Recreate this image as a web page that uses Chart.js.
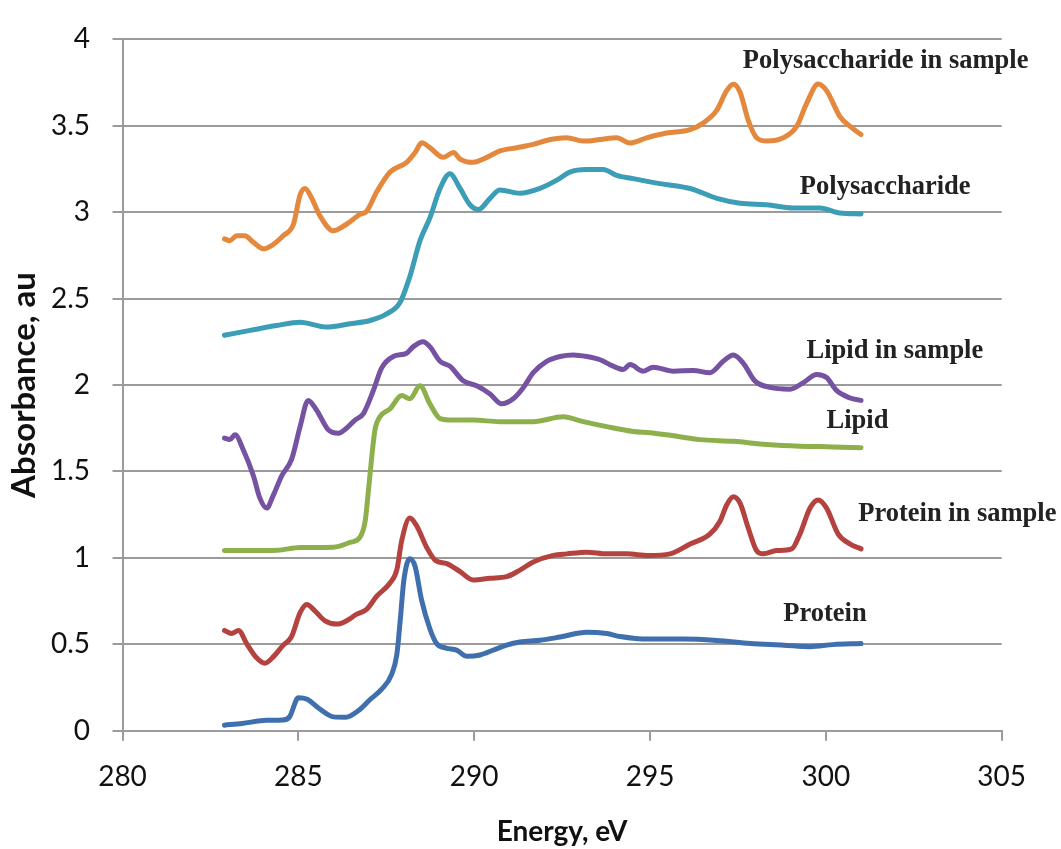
<!DOCTYPE html>
<html>
<head>
<meta charset="utf-8">
<title>C 1s absorption spectra</title>
<script src="https://cdn.jsdelivr.net/npm/chart.js@4.4.1/dist/chart.umd.min.js"></script>
<style>
  html, body { margin: 0; padding: 0; background: #ffffff; }
  #wrap { width: 1061px; height: 849px; }
</style>
</head>
<body>
<div id="wrap"><canvas id="chart" width="1061" height="849"></canvas></div>
<script>
// Spectra: [energy (eV), absorbance (au)]
const protein = [
  [282.9,0.032],[283.4,0.042],[284.1,0.06],[284.55,0.062],[284.75,0.08],[285.0,0.19],
  [285.25,0.182],[285.6,0.127],[286.0,0.08],[286.35,0.078],[286.7,0.115],[287.05,0.182],
  [287.37,0.24],[287.65,0.325],[287.8,0.44],[287.9,0.645],[288.0,0.87],[288.17,0.995],
  [288.32,0.95],[288.5,0.76],[288.74,0.59],[288.93,0.505],[289.2,0.478],[289.5,0.466],
  [289.8,0.43],[290.17,0.438],[290.55,0.467],[290.92,0.495],[291.3,0.513],[291.87,0.523],
  [292.44,0.542],[293.2,0.57],[293.77,0.562],[294.15,0.545],[294.95,0.53],[295.95,0.53],
  [296.9,0.522],[297.85,0.505],[298.8,0.495],[299.55,0.486],[300.2,0.498],[301.0,0.504]
];
const proteinInSample = [
  [282.9,0.58],[283.1,0.562],[283.3,0.58],[283.53,0.504],[283.82,0.42],[284.05,0.39],
  [284.3,0.43],[284.57,0.495],[284.8,0.542],[285.05,0.683],[285.24,0.73],[285.47,0.693],
  [285.76,0.636],[286.1,0.617],[286.37,0.636],[286.66,0.674],[286.94,0.702],[287.23,0.778],
  [287.6,0.853],[287.8,0.93],[287.94,1.1],[288.17,1.23],[288.37,1.183],[288.65,1.06],
  [288.9,0.985],[289.22,0.967],[289.6,0.92],[289.97,0.872],[290.45,0.882],[290.92,0.891],
  [291.3,0.929],[291.68,0.976],[292.25,1.014],[292.63,1.023],[293.2,1.033],[293.77,1.023],
  [294.34,1.023],[294.95,1.014],[295.57,1.023],[296.14,1.08],[296.7,1.137],[296.99,1.212],
  [297.18,1.306],[297.37,1.353],[297.56,1.316],[297.79,1.174],[298.03,1.042],[298.22,1.023],
  [298.6,1.042],[299.03,1.052],[299.26,1.137],[299.55,1.288],[299.78,1.335],[300.02,1.288],
  [300.35,1.137],[300.69,1.08],[301.0,1.052]
];
const lipid = [
  [282.9,1.042],[283.6,1.042],[284.4,1.044],[285.05,1.06],[286.0,1.062],[286.47,1.089],
  [286.75,1.118],[286.9,1.212],[286.99,1.382],[287.09,1.589],[287.18,1.741],[287.32,1.816],
  [287.61,1.863],[287.94,1.939],[288.17,1.92],[288.46,1.995],[288.74,1.891],[289.03,1.806],
  [289.41,1.797],[289.97,1.797],[290.73,1.788],[291.68,1.788],[292.53,1.816],[293.1,1.788],
  [293.77,1.759],[294.52,1.731],[295.0,1.724],[295.47,1.712],[296.42,1.684],[297.37,1.674],
  [298.32,1.656],[299.26,1.646],[300.21,1.642],[301.0,1.637]
];
const lipidInSample = [
  [282.9,1.693],[283.05,1.684],[283.2,1.712],[283.43,1.627],[283.72,1.476],[283.91,1.344],
  [284.1,1.288],[284.29,1.363],[284.53,1.476],[284.81,1.571],[285.05,1.759],[285.28,1.911],
  [285.52,1.854],[285.85,1.741],[286.14,1.721],[286.37,1.75],[286.61,1.797],[286.85,1.835],
  [287.13,1.967],[287.37,2.099],[287.7,2.165],[288.08,2.184],[288.27,2.222],[288.55,2.25],
  [288.74,2.222],[289.03,2.137],[289.31,2.109],[289.69,2.024],[290.07,1.995],[290.45,1.948],
  [290.78,1.891],[291.11,1.92],[291.4,1.986],[291.68,2.071],[292.06,2.137],[292.44,2.165],
  [292.82,2.174],[293.2,2.165],[293.58,2.146],[293.95,2.109],[294.24,2.09],[294.43,2.118],
  [294.81,2.08],[295.09,2.103],[295.66,2.08],[296.23,2.084],[296.7,2.071],[297.08,2.137],
  [297.37,2.174],[297.65,2.127],[297.98,2.024],[298.41,1.986],[298.98,1.976],[299.36,2.014],
  [299.74,2.061],[300.02,2.043],[300.31,1.967],[300.69,1.925],[301.0,1.911]
];
const polysaccharide = [
  [282.9,2.288],[283.63,2.316],[284.38,2.344],[285.05,2.363],[285.8,2.335],[286.47,2.354],
  [287.04,2.373],[287.51,2.411],[287.89,2.477],[288.17,2.627],[288.46,2.835],[288.74,2.967],
  [289.03,3.137],[289.31,3.222],[289.6,3.137],[289.88,3.043],[290.12,3.015],[290.45,3.08],
  [290.73,3.128],[291.3,3.109],[291.87,3.137],[292.35,3.185],[292.72,3.232],[293.2,3.247],
  [293.67,3.247],[294.05,3.213],[294.52,3.194],[295.28,3.165],[296.14,3.137],[296.9,3.08],
  [297.56,3.052],[298.32,3.043],[299.07,3.024],[299.83,3.024],[300.4,2.995],[301.0,2.99]
];
const polysaccharideInSample = [
  [282.9,2.845],[283.05,2.835],[283.25,2.864],[283.48,2.864],[283.72,2.826],[284.0,2.788],
  [284.24,2.807],[284.57,2.864],[284.86,2.93],[285.05,3.1],[285.19,3.137],[285.38,3.08],
  [285.62,2.977],[285.99,2.892],[286.37,2.93],[286.75,2.987],[286.94,3.005],[287.23,3.118],
  [287.61,3.232],[288.08,3.288],[288.32,3.345],[288.51,3.401],[288.74,3.373],[289.12,3.317],
  [289.41,3.345],[289.6,3.307],[289.97,3.288],[290.36,3.317],[290.73,3.354],[291.21,3.373],
  [291.68,3.392],[292.16,3.42],[292.63,3.43],[293.1,3.411],[293.58,3.42],[294.05,3.43],
  [294.43,3.40],[294.9,3.43],[295.47,3.458],[296.14,3.477],[296.51,3.515],[296.9,3.59],
  [297.18,3.703],[297.37,3.74],[297.56,3.694],[297.79,3.533],[298.03,3.43],[298.32,3.411],
  [298.79,3.43],[299.17,3.496],[299.45,3.628],[299.78,3.741],[300.02,3.703],[300.4,3.553],
  [300.69,3.496],[301.0,3.449]
];

// Axis ranges and tick spacing
const energyRange = [280, 305];
const energyStep = 5;
const absorbanceRange = [0, 4];
const absorbanceStep = 0.5;

const seriesNames = ['Protein', 'Protein in sample', 'Lipid', 'Lipid in sample',
                     'Polysaccharide', 'Polysaccharide in sample'];
const seriesData = [protein, proteinInSample, lipid, lipidInSample,
                    polysaccharide, polysaccharideInSample];
const seriesColors = ['#3F6FAD', '#B4423F', '#8DB04D', '#7652A2', '#3C9DB6', '#E3883C'];

// Curve captions, anchored at (energy, absorbance) of the text's left baseline
const captions = [
  { text: 'Polysaccharide in sample', at: [297.64, 3.836] },
  { text: 'Polysaccharide',           at: [299.26, 3.105] },
  { text: 'Lipid in sample',          at: [299.45, 2.156] },
  { text: 'Lipid',                    at: [300.02, 1.750] },
  { text: 'Protein in sample',        at: [300.92, 1.212] },
  { text: 'Protein',                  at: [298.79, 0.636] }
];

const captionPlugin = {
  id: 'curveCaptions',
  afterDraw(chart) {
    const { ctx, scales: { x, y } } = chart;
    ctx.save();
    ctx.font = 'bold 26.5px "Liberation Serif", "Times New Roman", serif';
    ctx.fillStyle = '#222222';
    ctx.textAlign = 'left';
    ctx.textBaseline = 'alphabetic';
    captions.forEach(c => {
      ctx.fillText(c.text, x.getPixelForValue(c.at[0]), y.getPixelForValue(c.at[1]));
    });
    ctx.restore();
  }
};

const gridGray = '#9b9b9b';

new Chart(document.getElementById('chart'), {
  type: 'line',
  data: {
    datasets: seriesNames.map((name, i) => ({
      label: name,
      data: seriesData[i].map(p => ({ x: p[0], y: p[1] })),
      borderColor: seriesColors[i],
      backgroundColor: seriesColors[i],
      borderWidth: 5,
      pointRadius: 0,
      cubicInterpolationMode: 'monotone',
      borderCapStyle: 'round',
      borderJoinStyle: 'round',
      fill: false
    }))
  },
  options: {
    responsive: false,
    animation: false,
    devicePixelRatio: 1,
    layout: { padding: { top: 24.3, right: 59.3, left: 0, bottom: 0 } },
    plugins: {
      legend: { display: false },
      tooltip: { enabled: false }
    },
    scales: {
      x: {
        type: 'linear',
        min: energyRange[0],
        max: energyRange[1],
        afterFit(scale) { scale.height = 118.3; },
        border: { display: true, color: gridGray, width: 2 },
        grid: { display: true, drawOnChartArea: false, drawTicks: true,
                tickLength: 10, color: gridGray, lineWidth: 2 },
        ticks: {
          stepSize: energyStep,
          padding: 19,
          color: '#111111',
          font: { family: 'Lato', size: 28 },
          maxRotation: 0,
          callback: v => String(Number(v))
        },
        title: {
          display: true,
          text: 'Energy, eV',
          color: '#111111',
          font: { family: 'Lato', size: 28, weight: 'bold', lineHeight: 1 },
          padding: { top: 0, bottom: 3 }
        }
      },
      y: {
        type: 'linear',
        min: absorbanceRange[0],
        max: absorbanceRange[1],
        afterFit(scale) { scale.width = 122.5; },
        border: { display: true, color: gridGray, width: 2 },
        grid: { display: true, drawOnChartArea: true, drawTicks: true,
                tickLength: 10, color: gridGray, lineWidth: 2 },
        ticks: {
          stepSize: absorbanceStep,
          padding: 22.5,
          color: '#111111',
          font: { family: 'Lato', size: 28 },
          callback: v => String(Number(v))
        },
        title: {
          display: true,
          text: 'Absorbance, au',
          color: '#111111',
          font: { family: 'Lato', size: 33, weight: 'bold', lineHeight: 1 },
          padding: { top: 7.5, bottom: 0 }
        }
      }
    }
  },
  plugins: [captionPlugin]
});
</script>
</body>
</html>
